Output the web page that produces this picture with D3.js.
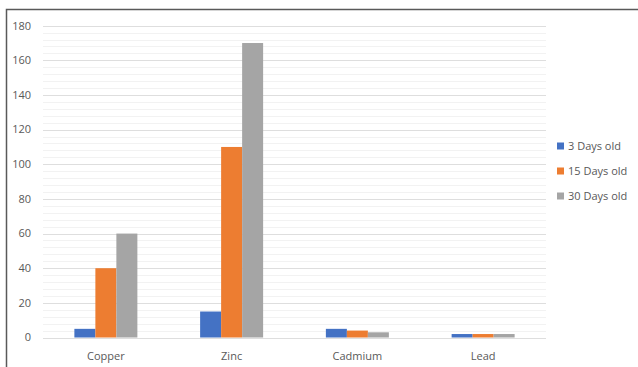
<!DOCTYPE html>
<html><head><meta charset="utf-8">
<script src="https://cdn.jsdelivr.net/npm/d3@7"></script>
<style>body{margin:0;background:#fff}svg{display:block}text{font-family:"Open Sans","Noto Sans",sans-serif}</style>
</head><body><svg id="c" width="638" height="367"></svg>
<script>
const categories = ["Copper", "Zinc", "Cadmium", "Lead"];
const seriesNames = ["3 Days old", "15 Days old", "30 Days old"];
const days3 = [5, 15, 5, 2];
const days15 = [40, 110, 4, 2];
const days30 = [60, 170, 3, 2];
const yTicks = [0, 20, 40, 60, 80, 100, 120, 140, 160, 180];
const colors = ["#4472C4", "#ED7D31", "#A5A5A5"];
const seriesValues = [days3, days15, days30];

const svg = d3.select("#c");
const pLeft = 43, pRight = 546, pTop = 25.7, pBottom = 337.5;
const y = d3.scaleLinear().domain([0, 180]).range([pBottom, pTop]);
const x0 = d3.scaleBand().domain(categories).range([pLeft, pRight]);
const x1 = d3.scaleBand().domain(seriesNames).range([0, 63]);

// frame
svg.append("path").attr("d", "M6.5,367 V9.5 H638").attr("fill", "none").attr("stroke", "#595959").attr("stroke-width", 1.5);

// minor grid
const minor = d3.range(0, 181, 4).filter(v => v % 20 !== 0);
svg.append("g").selectAll("line").data(minor).join("line")
  .attr("x1", pLeft).attr("x2", pRight).attr("y1", d => Math.round(y(d)) + 0.5).attr("y2", d => Math.round(y(d)) + 0.5)
  .attr("stroke", "#f2f2f2");
// major grid
svg.append("g").selectAll("line").data(yTicks).join("line")
  .attr("x1", pLeft).attr("x2", pRight).attr("y1", d => Math.round(y(d)) + 0.5).attr("y2", d => Math.round(y(d)) + 0.5)
  .attr("stroke", "#dedede");

// y tick labels
svg.append("g").selectAll("text").data(yTicks).join("text")
  .attr("x", 31).attr("y", d => y(d)).attr("dy", "0.35em").attr("text-anchor", "end")
  .attr("font-size", 11).attr("fill", "#595959").text(d => d);

// bars
const g = svg.append("g");
categories.forEach((c, ci) => {
  seriesNames.forEach((s, si) => {
    const v = seriesValues[si][ci];
    g.append("rect")
      .attr("x", x0(c) + (x0.bandwidth() - 63) / 2 + x1(s))
      .attr("width", x1.bandwidth())
      .attr("y", y(v)).attr("height", y(0) - y(v))
      .attr("fill", colors[si]);
  });
});

// x labels
svg.append("g").selectAll("text").data(categories).join("text")
  .attr("x", d => x0(d) + x0.bandwidth() / 2).attr("y", 356).attr("dy", "0.35em")
  .attr("text-anchor", "middle").attr("font-size", 11).attr("fill", "#595959").text(d => d);

// legend
const lg = svg.append("g");
seriesNames.forEach((s, i) => {
  const ly = 146 + i * 25;
  lg.append("rect").attr("x", 557).attr("y", ly - 3.5).attr("width", 7).attr("height", 7).attr("fill", colors[i]);
  lg.append("text").attr("x", 568).attr("y", ly).attr("dy", "0.35em").attr("font-size", 11).attr("fill", "#595959").text(s);
});
</script></body></html>
